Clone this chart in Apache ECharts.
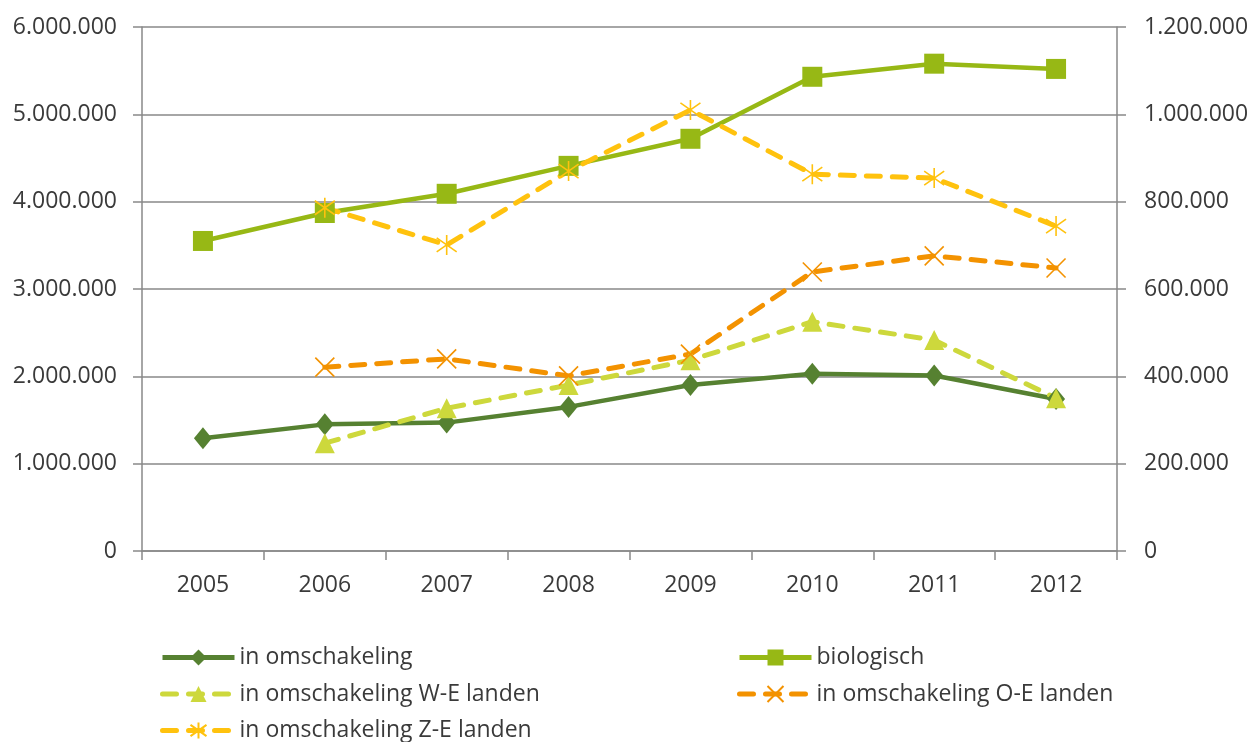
<!DOCTYPE html>
<html><head><meta charset="utf-8">
<script src="https://cdn.jsdelivr.net/npm/echarts@6/dist/echarts.min.js"></script>
<style>html,body{margin:0;padding:0;background:#fff}#c{width:1254px;height:742px}</style>
</head><body><div id="c"></div>
<script>
const years = ['2005','2006','2007','2008','2009','2010','2011','2012'];
const inOmschakeling = [1290000,1450000,1470000,1650000,1900000,2030000,2010000,1740000];
const biologisch = [3550000,3870000,4090000,4410000,4720000,5430000,5580000,5520000];
const weLanden = [null,247000,327000,380000,437000,525000,483000,350000];
const oeLanden = [null,421000,440000,401000,451000,639000,676000,648000];
const zeLanden = [null,786000,701000,870000,1010000,863000,854000,744000];
const leftTicks = [0,1000000,2000000,3000000,4000000,5000000,6000000];
const rightTicks = [0,200000,400000,600000,800000,1000000,1200000];

const fmt = v => String(v).replace(/\B(?=(\d{3})+(?!\d))/g, '.');
const FONT = 'Open Sans';
const TXT = '#3a3a3a';
const AX = '#898989';
const X_PATH = 'path://M0 0L10 10M10 0L0 10';
const STAR_PATH = 'path://M0 1.5L10 8.5M10 1.5L0 8.5M5 0L5 10';

const chart = echarts.init(document.getElementById('c'));
const axisY = (pos, ticks, showGrid, margin) => ({
  type: 'value', position: pos,
  min: ticks[0], max: ticks[ticks.length-1], interval: ticks[1]-ticks[0],
  axisLine: {show: true, lineStyle: {color: AX, width: 1.5}},
  axisTick: {show: true, length: 9, lineStyle: {color: AX, width: 1.5}},
  splitLine: {show: showGrid, lineStyle: {color: AX, width: 1.5}},
  axisLabel: {color: TXT, fontFamily: FONT, fontSize: 23, margin: margin, formatter: fmt}
});
const labelStyle = {color: TXT, fontFamily: FONT, fontSize: 23};
const legendBase = {orient: 'vertical', top: 646, height: 110, padding: 0, itemWidth: 72, itemHeight: 20, itemGap: 13.5,
  textStyle: labelStyle, lineStyle: {width: 5}};
chart.setOption({
  animation: false,
  grid: {left: 142, right: 137, top: 27, bottom: 191, containLabel: false},
  xAxis: {
    type: 'category', data: years, boundaryGap: true,
    axisLine: {lineStyle: {color: AX, width: 1.5}},
    axisTick: {show: true, length: 9, lineStyle: {color: AX, width: 1.5}},
    axisLabel: {color: TXT, fontFamily: FONT, fontSize: 23, margin: 23}
  },
  yAxis: [axisY('left', leftTicks, true, 25), axisY('right', rightTicks, false, 27)],
  legend: [
    Object.assign({data: ['in omschakeling','in omschakeling W-E landen','in omschakeling Z-E landen'], left: 160}, legendBase),
    Object.assign({data: ['biologisch','in omschakeling O-E landen'], left: 737}, legendBase)
  ],
  series: [
    {name: 'in omschakeling', type: 'line', yAxisIndex: 0, data: inOmschakeling,
     symbol: 'diamond', symbolSize: [18, 22], color: '#568131',
     lineStyle: {width: 4.5, color: '#568131'}, itemStyle: {color: '#568131'}},
    {name: 'biologisch', type: 'line', yAxisIndex: 0, data: biologisch,
     symbol: 'rect', symbolSize: 20, color: '#97B815',
     lineStyle: {width: 4.5, color: '#97B815'}, itemStyle: {color: '#97B815'}},
    {name: 'in omschakeling W-E landen', type: 'line', yAxisIndex: 1, data: weLanden,
     symbol: 'triangle', symbolSize: [20, 20], color: '#CDD83C',
     lineStyle: {width: 5, color: '#CDD83C', type: [14, 12], cap: 'round'}, itemStyle: {color: '#CDD83C'}},
    {name: 'in omschakeling O-E landen', type: 'line', yAxisIndex: 1, data: oeLanden,
     symbol: X_PATH, symbolSize: 19, color: '#F39200',
     lineStyle: {width: 5, color: '#F39200', type: [14, 12], cap: 'round'},
     itemStyle: {color: '#F39200', borderColor: '#F39200', borderWidth: 1.6}},
    {name: 'in omschakeling Z-E landen', type: 'line', yAxisIndex: 1, data: zeLanden,
     symbol: STAR_PATH, symbolSize: 20, color: '#FFC20E',
     lineStyle: {width: 5, color: '#FFC20E', type: [14, 12], cap: 'round'},
     itemStyle: {color: '#FFC20E', borderColor: '#FFC20E', borderWidth: 1.6}}
  ]
});
</script></body></html>
